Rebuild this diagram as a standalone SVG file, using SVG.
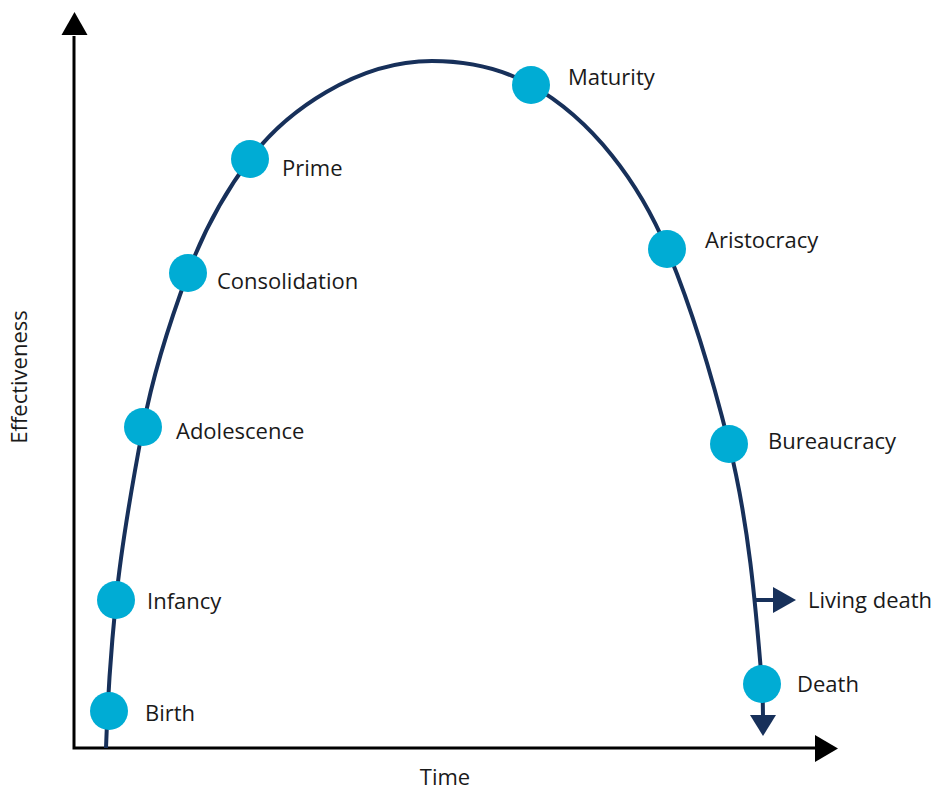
<svg xmlns="http://www.w3.org/2000/svg" width="940" height="792" viewBox="0 0 940 792">
<style>
.lbl{font-family:"Open Sans","Liberation Sans",sans-serif;font-size:22px;fill:#1a1a1a}
.dot{fill:#00acd4}
.curve{fill:none;stroke:#17305a;stroke-width:4}
.axis{stroke:#000;stroke-width:3;fill:none}
</style>
<rect width="940" height="792" fill="#fff"/>
<g id="axes">
<path class="axis" d="M74,36 V748 H816"/>
<polygon points="61.5,35 87.5,35 74.5,12" fill="#000"/>
<polygon points="815,735 815,762 838,748.5" fill="#000"/>
<text class="lbl" x="445" y="785" text-anchor="middle">Time</text>
<text class="lbl" transform="translate(27,377) rotate(-90)" text-anchor="middle">Effectiveness</text>
</g>
<g id="connectors">
<path class="curve" d="M106,748 C107.5,699 111.1,649 116,600 C121.8,542.3 132.2,484 143,427 C152.9,375 169.4,322.7 188,273 C203,232.7 224.2,193.4 250,159 C286,111 357,61 432,61 C466,61 501.3,68.4 531,85 C593,119.6 639.5,183.5 667,249 C693.3,311.7 712.5,378 729,444 C748.4,521.6 755.6,604 762,684 C763,700 763,708 763,716"/>
<polygon points="750,715 776,715 763,736" fill="#17305a"/>
<path d="M754,600 H775" stroke="#17305a" stroke-width="4" fill="none"/>
<polygon points="773,587 773,613 796,600" fill="#17305a"/>
</g>
<g id="birth"><circle class="dot" cx="109" cy="711" r="19"/><text class="lbl" x="145" y="721">Birth</text></g>
<g id="infancy"><circle class="dot" cx="116" cy="600" r="19"/><text class="lbl" x="147" y="609">Infancy</text></g>
<g id="adolescence"><circle class="dot" cx="143" cy="427" r="19"/><text class="lbl" x="176" y="439">Adolescence</text></g>
<g id="consolidation"><circle class="dot" cx="188" cy="273" r="19"/><text class="lbl" x="217" y="289">Consolidation</text></g>
<g id="prime"><circle class="dot" cx="250" cy="159" r="19"/><text class="lbl" x="282" y="176">Prime</text></g>
<g id="maturity"><circle class="dot" cx="531" cy="85" r="19"/><text class="lbl" x="568" y="85">Maturity</text></g>
<g id="aristocracy"><circle class="dot" cx="667" cy="249" r="19"/><text class="lbl" x="705" y="248">Aristocracy</text></g>
<g id="bureaucracy"><circle class="dot" cx="729" cy="444" r="19"/><text class="lbl" x="768" y="449">Bureaucracy</text></g>
<g id="living-death"><text class="lbl" x="808" y="608">Living death</text></g>
<g id="death"><circle class="dot" cx="762" cy="684" r="19"/><text class="lbl" x="797" y="692">Death</text></g>
</svg>
